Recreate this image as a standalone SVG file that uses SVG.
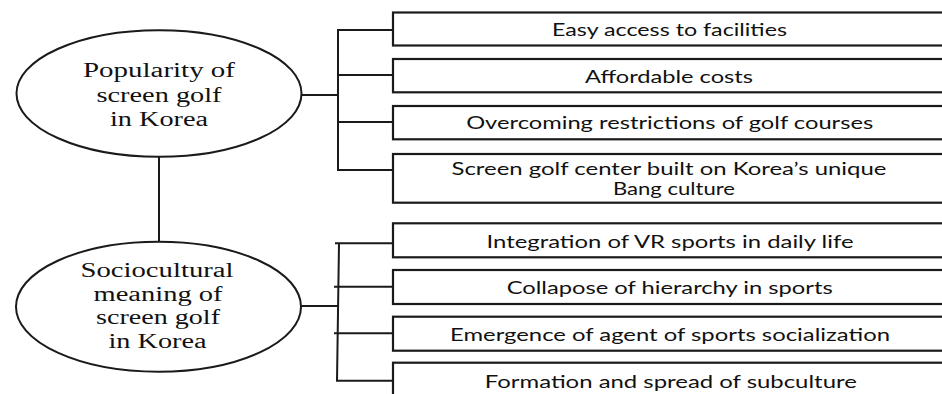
<svg xmlns="http://www.w3.org/2000/svg" width="942" height="394" viewBox="0 0 942 394">
<style>
.ln{stroke:#1a1a1a;stroke-width:2;fill:none}
.box{stroke:#1a1a1a;stroke-width:2.2;fill:#fff}
.ell{stroke:#1a1a1a;stroke-width:2;fill:#fff}
.et{font-family:"Liberation Serif","DejaVu Serif",serif;font-size:20px;fill:#111;text-anchor:middle}
.bt{font-family:Lato,"Open Sans","Liberation Sans",sans-serif;font-size:17px;fill:#111;text-anchor:middle}
</style>
<rect width="942" height="394" fill="#fff"/>
<g id="connectors">
<line class="ln" x1="159" y1="156" x2="159" y2="242"/>
<line class="ln" x1="301" y1="95" x2="338" y2="95"/>
<line class="ln" x1="338" y1="29" x2="338" y2="171"/>
<line class="ln" x1="337" y1="30" x2="393" y2="30"/>
<line class="ln" x1="337" y1="75" x2="393" y2="75"/>
<line class="ln" x1="337" y1="122" x2="393" y2="122"/>
<line class="ln" x1="337" y1="170" x2="393" y2="170"/>
<line class="ln" x1="301" y1="306" x2="338" y2="306"/>
<line class="ln" x1="339" y1="243" x2="337" y2="381"/>
<line class="ln" x1="335" y1="243.3" x2="393" y2="243.3"/>
<line class="ln" x1="334" y1="286.7" x2="393" y2="286.7"/>
<line class="ln" x1="334" y1="333.3" x2="393" y2="333.3"/>
<line class="ln" x1="336" y1="380.7" x2="393" y2="380.7"/>
</g>
<g id="n-popularity">
<ellipse class="ell" cx="159" cy="93.5" rx="142.5" ry="63.3"/>
<text class="et" x="159" y="77" textLength="152" lengthAdjust="spacingAndGlyphs">Popularity of</text>
<text class="et" x="159" y="101.5" textLength="125" lengthAdjust="spacingAndGlyphs">screen golf</text>
<text class="et" x="159" y="125.5" textLength="98" lengthAdjust="spacingAndGlyphs">in Korea</text>
</g>
<g id="n-sociocultural">
<ellipse class="ell" cx="158.5" cy="306.7" rx="142.5" ry="65"/>
<text class="et" x="157" y="277.3" textLength="153" lengthAdjust="spacingAndGlyphs">Sociocultural</text>
<text class="et" x="158" y="300.8" textLength="129" lengthAdjust="spacingAndGlyphs">meaning of</text>
<text class="et" x="158" y="324.3" textLength="124" lengthAdjust="spacingAndGlyphs">screen golf</text>
<text class="et" x="157.5" y="347.6" textLength="98" lengthAdjust="spacingAndGlyphs">in Korea</text>
</g>
<g id="n-easy">
<rect class="box" x="393" y="12.5" width="570" height="33"/>
<text class="bt" x="669.5" y="35.5" textLength="235" lengthAdjust="spacingAndGlyphs">Easy access to facilities</text>
</g>
<g id="n-affordable">
<rect class="box" x="393" y="59" width="570" height="33.3"/>
<text class="bt" x="669" y="82.5" textLength="168" lengthAdjust="spacingAndGlyphs">Affordable costs</text>
</g>
<g id="n-overcoming">
<rect class="box" x="393" y="106" width="570" height="33.3"/>
<text class="bt" x="669.7" y="129.3" textLength="407" lengthAdjust="spacingAndGlyphs">Overcoming restrictions of golf courses</text>
</g>
<g id="n-bang">
<rect class="box" x="393" y="154" width="570" height="48.7"/>
<text class="bt" x="669" y="174.6" textLength="435" lengthAdjust="spacingAndGlyphs">Screen golf center built on Korea’s unique</text>
<text class="bt" x="674" y="195.2" textLength="122" lengthAdjust="spacingAndGlyphs">Bang culture</text>
</g>
<g id="n-vr">
<rect class="box" x="393" y="223.3" width="570" height="34"/>
<text class="bt" x="670" y="247.7" textLength="367" lengthAdjust="spacingAndGlyphs">Integration of VR sports in daily life</text>
</g>
<g id="n-hierarchy">
<rect class="box" x="393" y="270" width="570" height="34"/>
<text class="bt" x="669.7" y="294.3" textLength="326" lengthAdjust="spacingAndGlyphs">Collapose of hierarchy in sports</text>
</g>
<g id="n-agent">
<rect class="box" x="393" y="316.7" width="570" height="34"/>
<text class="bt" x="670" y="341" textLength="440" lengthAdjust="spacingAndGlyphs">Emergence of agent of sports socialization</text>
</g>
<g id="n-subculture">
<rect class="box" x="393" y="362.7" width="570" height="45"/>
<text class="bt" x="670.8" y="387.7" textLength="372" lengthAdjust="spacingAndGlyphs">Formation and spread of subculture</text>
</g>
</svg>
